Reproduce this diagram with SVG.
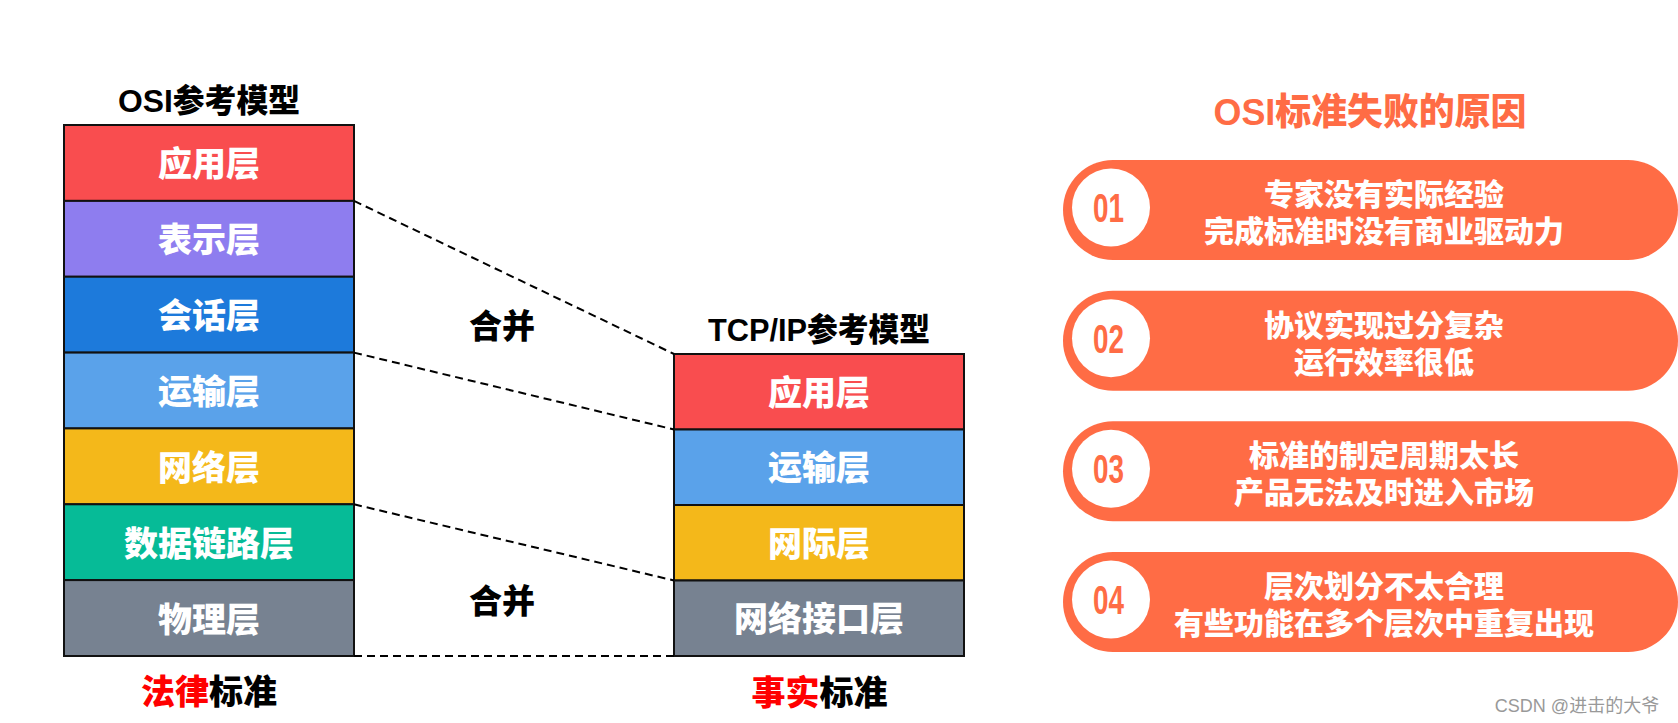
<svg xmlns="http://www.w3.org/2000/svg" width="1678" height="723" viewBox="0 0 1678 723">
<style>
text{font-family:"Liberation Sans","Noto Sans CJK SC",sans-serif;font-weight:900;text-anchor:middle}
.layer rect{stroke:#111;stroke-width:2}
.lt{fill:#fff;font-size:34px}
.ttl{fill:#000;font-size:32px}
.mg{fill:#000;font-size:33px}
.lg{font-size:34px;fill:#000}
.red{fill:#f00}
.dash{stroke:#000;stroke-width:2;stroke-dasharray:8 5;fill:none}
.pill{fill:#ff6c45}
.circ{fill:#fff}
.num{fill:#ff6c45;font-size:40px;font-weight:bold}
.pt{fill:#fff;font-size:30px}
.wm{fill:#999;font-size:18px;font-weight:normal}
</style>
<rect width="1678" height="723" fill="#fff"/>

<g id="osi-title"><text class="ttl" x="209" y="112" textLength="182" lengthAdjust="spacingAndGlyphs">OSI参考模型</text></g>

<g id="osi-model" class="layer">
  <g id="osi-app"><rect x="64" y="125" width="290" height="75.9" fill="#f94d4f"/><text class="lt" x="209" y="176">应用层</text></g>
  <g id="osi-pres"><rect x="64" y="200.9" width="290" height="75.9" fill="#8e7def"/><text class="lt" x="209" y="252">表示层</text></g>
  <g id="osi-sess"><rect x="64" y="276.7" width="290" height="75.9" fill="#1d7adb"/><text class="lt" x="209" y="328">会话层</text></g>
  <g id="osi-trans"><rect x="64" y="352.6" width="290" height="75.9" fill="#5aa2ea"/><text class="lt" x="209" y="404">运输层</text></g>
  <g id="osi-net"><rect x="64" y="428.4" width="290" height="75.9" fill="#f4b81a"/><text class="lt" x="209" y="480">网络层</text></g>
  <g id="osi-link"><rect x="64" y="504.3" width="290" height="75.9" fill="#06bb97"/><text class="lt" x="209" y="556">数据链路层</text></g>
  <g id="osi-phys"><rect x="64" y="580.1" width="290" height="75.9" fill="#778291"/><text class="lt" x="209" y="632">物理层</text></g>
</g>

<g id="osi-legend"><text class="lg" x="209" y="704"><tspan class="red">法律</tspan>标准</text></g>

<g id="tcp-title"><text class="ttl" x="819" y="341" textLength="222" lengthAdjust="spacingAndGlyphs">TCP/IP参考模型</text></g>

<g id="tcp-model" class="layer">
  <g id="tcp-app"><rect x="674" y="354" width="290" height="75.5" fill="#f94d4f"/><text class="lt" x="819" y="405">应用层</text></g>
  <g id="tcp-trans"><rect x="674" y="429.5" width="290" height="75.5" fill="#5aa2ea"/><text class="lt" x="819" y="480">运输层</text></g>
  <g id="tcp-inet"><rect x="674" y="505" width="290" height="75.5" fill="#f4b81a"/><text class="lt" x="819" y="556">网际层</text></g>
  <g id="tcp-nif"><rect x="674" y="580.5" width="290" height="75.5" fill="#778291"/><text class="lt" x="819" y="631">网络接口层</text></g>
</g>

<g id="tcp-legend"><text class="lg" x="819.5" y="705"><tspan class="red">事实</tspan>标准</text></g>

<g id="connectors">
  <line class="dash" x1="354" y1="200.9" x2="674" y2="354"/>
  <line class="dash" x1="354" y1="352.6" x2="674" y2="429.5"/>
  <line class="dash" x1="354" y1="504.3" x2="674" y2="580.5"/>
  <line class="dash" x1="354" y1="656" x2="674" y2="656"/>
</g>

<g id="merge1"><text class="mg" x="502" y="338">合并</text></g>
<g id="merge2"><text class="mg" x="502" y="613">合并</text></g>

<g id="reasons-title"><text x="1370" y="125" font-size="37" fill="#ff6c45" textLength="313" lengthAdjust="spacingAndGlyphs">OSI标准失败的原因</text></g>

<g id="reason1">
  <rect class="pill" x="1063" y="160" width="615" height="100" rx="50"/>
  <circle class="circ" cx="1111" cy="207.5" r="39"/>
  <text class="num" x="1108.5" y="222" textLength="31" lengthAdjust="spacingAndGlyphs">01</text>
  <text class="pt" x="1384" y="205">专家没有实际经验</text>
  <text class="pt" x="1384" y="242">完成标准时没有商业驱动力</text>
</g>
<g id="reason2">
  <rect class="pill" x="1063" y="290.7" width="615" height="100" rx="50"/>
  <circle class="circ" cx="1111" cy="338.2" r="39"/>
  <text class="num" x="1108.5" y="352.7" textLength="31" lengthAdjust="spacingAndGlyphs">02</text>
  <text class="pt" x="1384" y="335.7">协议实现过分复杂</text>
  <text class="pt" x="1384" y="372.7">运行效率很低</text>
</g>
<g id="reason3">
  <rect class="pill" x="1063" y="421.3" width="615" height="100" rx="50"/>
  <circle class="circ" cx="1111" cy="468.8" r="39"/>
  <text class="num" x="1108.5" y="483.3" textLength="31" lengthAdjust="spacingAndGlyphs">03</text>
  <text class="pt" x="1384" y="466.3">标准的制定周期太长</text>
  <text class="pt" x="1384" y="503.3">产品无法及时进入市场</text>
</g>
<g id="reason4">
  <rect class="pill" x="1063" y="552" width="615" height="100" rx="50"/>
  <circle class="circ" cx="1111" cy="599.5" r="39"/>
  <text class="num" x="1108.5" y="614" textLength="31" lengthAdjust="spacingAndGlyphs">04</text>
  <text class="pt" x="1384" y="597">层次划分不太合理</text>
  <text class="pt" x="1384" y="634">有些功能在多个层次中重复出现</text>
</g>

<g id="watermark"><text class="wm" x="1577" y="712">CSDN @进击的大爷</text></g>
</svg>
